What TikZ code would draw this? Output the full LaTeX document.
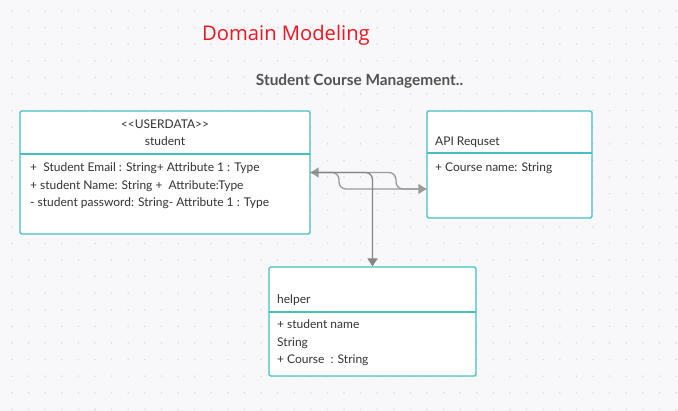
\documentclass[tikz,border=0pt]{standalone}
\usepackage{fontspec}
\setmainfont{Lato}
\newfontfamily\titlefont{Open Sans}
\usetikzlibrary{arrows.meta}
\definecolor{bg}{HTML}{F8F8FA}
\definecolor{dotc}{HTML}{DCDCE2}
\definecolor{teal1}{HTML}{45BFC0}
\definecolor{txt}{HTML}{333333}
\definecolor{subtxt}{HTML}{525252}
\definecolor{conn}{HTML}{9A9A9A}
\definecolor{conndark}{HTML}{858585}
\definecolor{titlered}{HTML}{F0141E}
\begin{document}
\begin{tikzpicture}[x=1pt,y=-1pt,
  umlbox/.style={draw=teal1, line width=1.3pt, fill=white, rounded corners=1.5pt, inner sep=0pt},
  lbl/.style={anchor=base west, inner sep=0pt, font=\fontsize{12}{14}\selectfont, text=txt},
  ctr/.style={anchor=base, inner sep=0pt, font=\fontsize{12}{14}\selectfont, text=txt},
  divider/.style={draw=teal1, line width=1.3pt},
  link/.style={draw=conn, line width=1.3pt, rounded corners=7pt},
  tip/.style={-{Triangle[length=8pt,width=10pt]}}
]
\useasboundingbox (0,0) rectangle (678,411);
\fill[bg] (0,0) rectangle (678,411);
\foreach \i in {0,...,40} {
  \foreach \j in {0,...,24} {
    \fill[dotc] ({12+16.6*\i},{11+16.6*\j}) circle (0.9);
  }
}
% titles
\node[anchor=base, inner sep=0pt, text=titlered, font=\titlefont\fontsize{20.2}{23}\selectfont] (title) at (286,41) {Domain Modeling};
\node[anchor=base, inner sep=0pt, text=subtxt, font=\fontsize{15.4}{17}\selectfont\bfseries] (subtitle) at (359.5,85.5) {Student Course Management..};

% student box
\node[umlbox, minimum width=290pt, minimum height=123pt] (student) at (165,172.5) {};
\draw[divider] (20,154) -- (310,154);
\node[ctr] (st1) at (165,129) {<{}<USERDATA>{}>};
\node[ctr] (st2) at (165,145.5) {student};
\node[lbl] (sa1) at (30,171.5) {+~~Student Email : String+ Attribute 1 : Type};
\node[lbl] (sa2) at (30,189.5) {+ student Name: String +~~Attribute:Type};
\node[lbl] (sa3) at (30,206.5) {- student password: String- Attribute 1 : Type};

% API box
\node[umlbox, minimum width=165pt, minimum height=107pt] (api) at (509.5,164.5) {};
\draw[divider] (427,153) -- (592,153);
\node[lbl] (ap1) at (435,145.5) {API Requset};
\node[lbl] (ap2) at (435,171.5) {+ Course name: String};

% helper box
\node[umlbox, minimum width=207pt, minimum height=109pt] (helper) at (372.5,321.5) {};
\draw[divider] (269,312) -- (476,312);
\node[lbl] (hp1) at (277,303.5) {helper};
\node[lbl] (hp2) at (277,328.5) {+ student name};
\node[lbl] (hp3) at (277,346.5) {String};
\node[lbl] (hp4) at (277,363.5) {+ Course~~: String};

% connectors
\coordinate (apiin) at ([yshift=-24.5pt]api.west);
\draw[link, tip] (student.east) -- (339,172.5) -- (339,189) -- (apiin);
\draw[link, tip] (apiin) -- (396,189) -- (396,172.5) -- (student.east);
\draw[link, draw=conndark, tip] (student.east) -- (372.5,172.5) -- (helper.north);
\end{tikzpicture}
\end{document}
